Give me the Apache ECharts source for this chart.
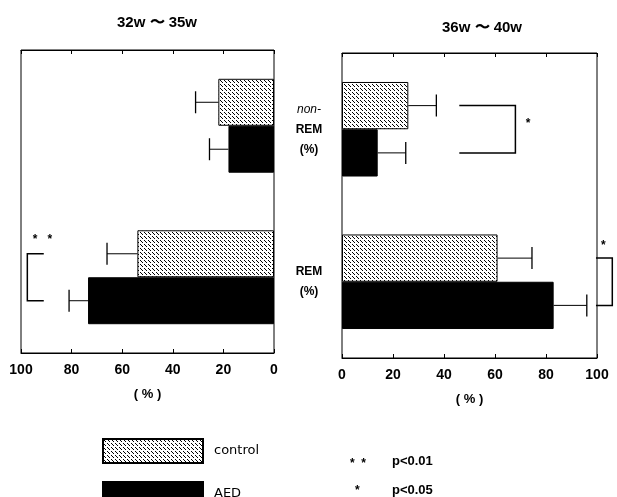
<!DOCTYPE html>
<html><head><meta charset="utf-8">
<script src="https://cdn.jsdelivr.net/npm/echarts@6/dist/echarts.min.js"></script>
<style>html,body{margin:0;padding:0;background:#fff}#c{width:617px;height:497px}</style>
</head><body><div id="c"></div>
<script>
const categories = ['non-REM (%)', 'REM (%)'];
const xTicks = [0, 20, 40, 60, 80, 100];
const leftControl = [22, 54];
const leftControlErr = [9, 12];
const leftAED = [18, 73.5];
const leftAEDErr = [7.5, 7.5];
const rightControl = [26, 61];
const rightControlErr = [11, 13.5];
const rightAED = [14, 83];
const rightAEDErr = [11, 13];
// brackets: [category, inner x, outer x, star label, star x]
const leftBrackets = [[1, 91, 97.5, '*   *', 91.5]];
const rightBrackets = [[0, 46, 68, '*', 73], [1, 99.6, 106, '*', 102.5]];

const cv = document.createElement('canvas');
cv.width = 4; cv.height = 4;
const cx = cv.getContext('2d');
cx.fillStyle = '#fff'; cx.fillRect(0, 0, 4, 4);
cx.fillStyle = '#000';
for (let i = 0; i < 3; i++) cx.fillRect(i, i, 1, 1);
const hatch = { image: cv, repeat: 'repeat' };

const BAR_FRAC = 0.31;
const font = 'Liberation Sans, Arial, sans-serif';

function errRender(sign) {
  return function (params, api) {
    const v = api.value(0), e = api.value(1), c = api.value(2);
    const band = api.size([0, 1])[1];
    const off = sign * band * BAR_FRAC / 2;
    const p0 = api.coord([v, c]);
    const p1 = api.coord([v + e, c]);
    const y = p0[1] + off;
    return {
      type: 'group',
      children: [
        { type: 'line', shape: { x1: p0[0], y1: y, x2: p1[0], y2: y }, style: { stroke: '#000', lineWidth: 1 } },
        { type: 'line', shape: { x1: p1[0], y1: y - 11, x2: p1[0], y2: y + 11 }, style: { stroke: '#000', lineWidth: 1.3 } }
      ]
    };
  };
}
function bracketRender(params, api) {
  const c = api.value(0), xi = api.value(1), xo = api.value(2), sx = api.value(4);
  const band = api.size([0, 1])[1];
  const off = band * BAR_FRAC / 2;
  const pi = api.coord([xi, c]);
  const po = api.coord([xo, c]);
  const ps = api.coord([sx, c]);
  const y1 = pi[1] - off, y2 = pi[1] + off;
  const label = api.value(3);
  const starY = label.length > 1 ? y1 - 14 : (c === 0 ? pi[1] - 6 : y1 - 12);
  return {
    type: 'group',
    children: [
      { type: 'polyline', shape: { points: [[pi[0], y1], [po[0], y1], [po[0], y2], [pi[0], y2]] }, style: { stroke: '#000', lineWidth: 1.5, fill: null } },
      { type: 'text', style: { x: ps[0], y: starY, text: label, font: 'bold 12px ' + font, fill: '#000', align: 'center', verticalAlign: 'middle' } }
    ]
  };
}

function mkX(gi, inverse) {
  return [{
    type: 'value', gridIndex: gi, min: 0, max: 100, interval: 20, inverse: inverse, position: 'bottom',
    axisLine: { show: true, lineStyle: { color: '#000' } },
    axisTick: { show: true, inside: true, length: 4, lineStyle: { color: '#000' } },
    axisLabel: { color: '#000', fontFamily: font, fontWeight: 'bold', fontSize: 14, margin: 10 },
    splitLine: { show: false },
    name: '( % )', nameLocation: 'middle', nameGap: 35,
    nameTextStyle: { color: '#000', fontFamily: font, fontWeight: 'bold', fontSize: 13 }
  }, {
    type: 'value', gridIndex: gi, min: 0, max: 100, interval: 20, inverse: inverse, position: 'top',
    axisLine: { show: true, lineStyle: { color: '#000' } },
    axisTick: { show: true, inside: true, length: 4, lineStyle: { color: '#000' } },
    axisLabel: { show: false }, splitLine: { show: false }
  }];
}
const legendText = { fontFamily: 'DejaVu Sans, sans-serif', fontSize: 13, color: '#000', padding: [0, 0, 0, 6] };

const chart = echarts.init(document.getElementById('c'), null, { renderer: 'canvas' });
chart.setOption({
  animation: false,
  backgroundColor: '#fff',
  title: [
    { text: '32w 〜 35w', left: 152, top: 10, textAlign: 'center', textStyle: { fontFamily: font, fontWeight: 'bold', fontSize: 15, color: '#000' } },
    { text: '36w 〜 40w', left: 477, top: 15, textAlign: 'center', textStyle: { fontFamily: font, fontWeight: 'bold', fontSize: 15, color: '#000' } }
  ],
  grid: [
    { left: 21, top: 50, width: 253, height: 303, show: true, borderColor: '#000', borderWidth: 1 },
    { left: 342, top: 53, width: 255, height: 305, show: true, borderColor: '#000', borderWidth: 1 }
  ],
  xAxis: mkX(0, true).concat(mkX(1, false)),
  yAxis: [
    { type: 'category', gridIndex: 0, data: categories, inverse: true, position: 'right',
      axisLine: { show: false }, axisTick: { show: false }, axisLabel: { show: false } },
    { type: 'category', gridIndex: 1, data: categories, inverse: true, position: 'left',
      axisLine: { show: false }, axisTick: { show: false },
      axisLabel: {
        margin: 33, align: 'center', color: '#000',
        formatter: function (v) { return v === 'REM (%)' ? '{b|REM}\n{b|(%)}' : '{i|non-}\n{b|REM}\n{b|(%)}'; },
        rich: {
          b: { fontFamily: font, fontWeight: 'bold', fontSize: 12, lineHeight: 20, color: '#000' },
          i: { fontFamily: font, fontStyle: 'italic', fontSize: 12, lineHeight: 20, color: '#000' }
        }
      } }
  ],
  legend: [
    { left: 97, top: 433, itemWidth: 100, itemHeight: 24, data: [{ name: 'control', icon: 'rect' }], textStyle: legendText },
    { left: 97, top: 476, itemWidth: 100, itemHeight: 24, data: [{ name: 'AED', icon: 'rect' }], textStyle: legendText }
  ],
  graphic: [
    { type: 'text', left: 350, top: 458, style: { text: '*  *', font: 'bold 12px ' + font, fill: '#000' } },
    { type: 'text', left: 392, top: 455, style: { text: 'p<0.01', font: 'bold 13px ' + font, fill: '#000' } },
    { type: 'text', left: 355, top: 485, style: { text: '*', font: 'bold 12px ' + font, fill: '#000' } },
    { type: 'text', left: 392, top: 484, style: { text: 'p<0.05', font: 'bold 13px ' + font, fill: '#000' } }
  ],
  series: [
    { name: 'control', type: 'bar', xAxisIndex: 0, yAxisIndex: 0, data: leftControl, barWidth: '31%', barGap: '0%',
      itemStyle: { color: hatch, borderColor: '#000', borderWidth: 1 } },
    { name: 'AED', type: 'bar', xAxisIndex: 0, yAxisIndex: 0, data: leftAED, barWidth: '31%', barGap: '0%',
      itemStyle: { color: '#000', borderColor: '#000', borderWidth: 1 } },
    { name: 'control', type: 'bar', xAxisIndex: 2, yAxisIndex: 1, data: rightControl, barWidth: '31%', barGap: '0%',
      itemStyle: { color: hatch, borderColor: '#000', borderWidth: 1 } },
    { name: 'AED', type: 'bar', xAxisIndex: 2, yAxisIndex: 1, data: rightAED, barWidth: '31%', barGap: '0%',
      itemStyle: { color: '#000', borderColor: '#000', borderWidth: 1 } },
    { type: 'custom', xAxisIndex: 0, yAxisIndex: 0, renderItem: errRender(-1), clip: false, z: 1,
      data: leftControl.map((v, i) => [v, leftControlErr[i], i]) },
    { type: 'custom', xAxisIndex: 0, yAxisIndex: 0, renderItem: errRender(1), clip: false, z: 1,
      data: leftAED.map((v, i) => [v, leftAEDErr[i], i]) },
    { type: 'custom', xAxisIndex: 2, yAxisIndex: 1, renderItem: errRender(-1), clip: false, z: 1,
      data: rightControl.map((v, i) => [v, rightControlErr[i], i]) },
    { type: 'custom', xAxisIndex: 2, yAxisIndex: 1, renderItem: errRender(1), clip: false, z: 1,
      data: rightAED.map((v, i) => [v, rightAEDErr[i], i]) },
    { type: 'custom', xAxisIndex: 0, yAxisIndex: 0, renderItem: bracketRender, clip: false,
      dimensions: ['c', 'xi', 'xo', { name: 's', type: 'ordinal' }, 'sx'], data: leftBrackets },
    { type: 'custom', xAxisIndex: 2, yAxisIndex: 1, renderItem: bracketRender, clip: false,
      dimensions: ['c', 'xi', 'xo', { name: 's', type: 'ordinal' }, 'sx'], data: rightBrackets }
  ]
});
</script></body></html>
